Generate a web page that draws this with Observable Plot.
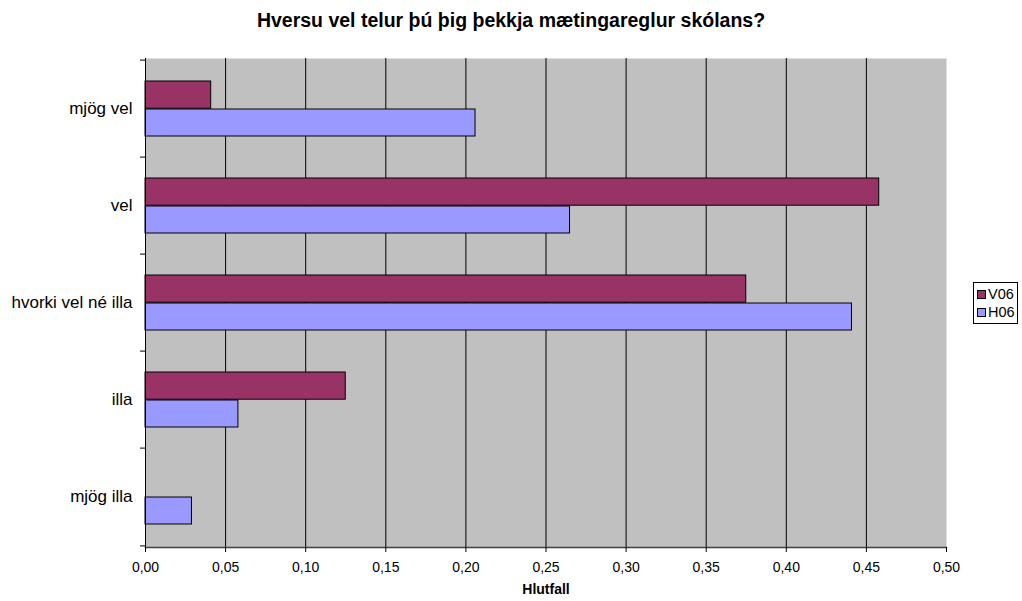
<!DOCTYPE html>
<html><head><meta charset="utf-8">
<script src="https://cdn.jsdelivr.net/npm/d3@7"></script>
<script src="https://cdn.jsdelivr.net/npm/@observablehq/plot@0.6"></script>
<style>
body{margin:0;background:#fff;font-family:Arial,"Liberation Sans",sans-serif;}
#wrap{position:relative;width:1022px;height:601px;overflow:hidden;}
#chart{position:absolute;left:0;top:0;}
#title{position:absolute;top:9px;left:0;width:1022px;text-align:center;font-weight:bold;font-size:19.5px;color:#000;}
#legend{position:absolute;left:973px;top:282px;width:45px;height:42px;border:1px solid #000;background:#fff;font-size:14.5px;box-sizing:border-box;}
.item{position:absolute;left:3px;height:16px;line-height:16px;white-space:nowrap;}
.sw{display:inline-block;width:7px;height:7px;border:1px solid #000;margin-right:2px;vertical-align:middle;position:relative;top:-1px;}
</style></head>
<body><div id="wrap"><div id="chart"></div><div id="title">Hversu vel telur þú þig þekkja mætingareglur skólans?</div><div id="legend"></div></div>
<script>
const categories = ["mjög vel", "vel", "hvorki vel né illa", "illa", "mjög illa"];
const seriesNames = ["V06", "H06"];
const v06 = [0.041, 0.458, 0.375, 0.125, 0];
const h06 = [0.206, 0.265, 0.441, 0.058, 0.029];
const seriesColors = ["#993366", "#9999FF"];
const xTicks = [0, 0.05, 0.10, 0.15, 0.20, 0.25, 0.30, 0.35, 0.40, 0.45, 0.50];
const xLabel = "Hlutfall";

const W = 1022, H = 601, mL = 145, mR = 76, mT = 58, mB = 54;
const bw = (H - mT - mB) / categories.length;

const rowsV = categories.map((c, i) => ({cat: c, value: v06[i]})).filter(d => d.value > 0);
const rowsH = categories.map((c, i) => ({cat: c, value: h06[i]})).filter(d => d.value > 0);
const fmt = d => d3.format(".2f")(d).replace(".", ",");

const chart = Plot.plot({
  width: W, height: H,
  marginLeft: mL, marginRight: mR, marginTop: mT, marginBottom: mB,
  style: {fontFamily: "Arial, 'Liberation Sans', sans-serif", background: "transparent", color: "#000"},
  x: {domain: [0, 0.5]},
  y: {domain: categories, padding: 0},
  marks: [
    Plot.frame({fill: "#C0C0C0", stroke: "none"}),
    Plot.gridX(xTicks.slice(1, -1), {stroke: "#000", strokeOpacity: 1}),
    Plot.barX(rowsV, {x: "value", y: "cat", fill: seriesColors[0], stroke: "#000", strokeWidth: 1, insetTop: 21, insetBottom: bw - 49}),
    Plot.barX(rowsH, {x: "value", y: "cat", fill: seriesColors[1], stroke: "#000", strokeWidth: 1, insetTop: 49, insetBottom: 21}),
    Plot.frame({anchor: "bottom", stroke: "#404040", strokeWidth: 1.5}),
    Plot.frame({anchor: "left", stroke: "#000"}),
    Plot.axisX({ticks: xTicks, tickFormat: fmt, tickSize: 5, tickPadding: 10, fontSize: 14, label: null}),
    Plot.axisY({tickSize: 0, tickPadding: 13, fontSize: 17, label: null}),
    Plot.axisY({tickSize: 5, tickFormat: () => "", dy: -bw / 2, label: null}),
    Plot.axisY([categories[categories.length - 1]], {tickSize: 5, tickFormat: () => "", dy: bw / 2, label: null}),
    Plot.text([xLabel], {frameAnchor: "bottom", dy: 46, fontWeight: "bold", fontSize: 14})
  ]
});
document.getElementById("chart").appendChild(chart);

const legend = document.getElementById("legend");
seriesNames.forEach((s, i) => {
  const it = document.createElement("div");
  it.className = "item";
  it.style.top = (3 + i * 18) + "px";
  it.innerHTML = `<span class="sw" style="background:${seriesColors[i]}"></span>${s}`;
  legend.appendChild(it);
});
</script>
</body></html>
